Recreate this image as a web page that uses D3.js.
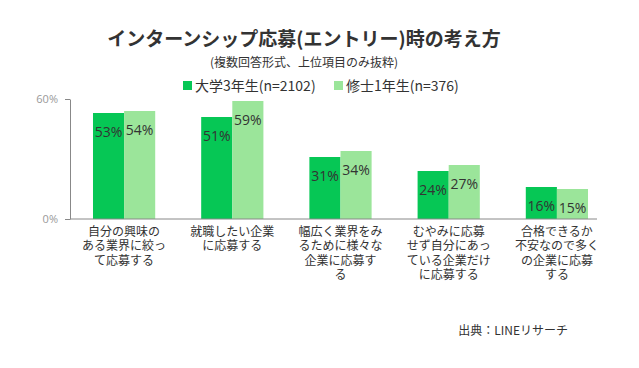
<!DOCTYPE html>
<html><head><meta charset="utf-8">
<script src="https://cdn.jsdelivr.net/npm/d3@7"></script>
<style>
html,body{margin:0;padding:0;background:#fff;}
svg{display:block;font-family:"Noto Sans CJK JP","Noto Sans",sans-serif;}
</style></head>
<body><svg id="c" width="639" height="368"></svg>
<script>
const categories = [
  ["自分の興味の","ある業界に絞っ","て応募する"],
  ["就職したい企業","に応募する"],
  ["幅広く業界をみ","るために様々な","企業に応募す","る"],
  ["むやみに応募","せず自分にあっ","ている企業だけ","に応募する"],
  ["合格できるか","不安なので多く","の企業に応募","する"]
];
const seriesNames = ["大学3年生(n=2102)","修士1年生(n=376)"];
const undergrad = [53,51,31,24,16];
const master = [54,59,34,27,15];
const yTicks = [0,60];
const colors = ["#06C755","#9BE59A"];

const svg = d3.select("#c");
const x0 = d3.scaleBand().domain(d3.range(categories.length)).range([70,611]).paddingInner(0.425).paddingOuter(0.2125);
const x1 = d3.scaleBand().domain([0,1]).range([0,x0.bandwidth()]);
const y = d3.scaleLinear().domain([0,60]).range([219,99]);

// title
svg.append("text").attr("x",304).attr("y",46).attr("text-anchor","middle")
  .attr("font-size",19).attr("font-weight","bold").attr("fill","#333")
  .text("インターンシップ応募(エントリー)時の考え方");
svg.append("text").attr("x",304).attr("y",67).attr("text-anchor","middle")
  .attr("font-size",12).attr("fill","#333").text("(複数回答形式、上位項目のみ抜粋)");

// legend
const lg = [[183,195],[334,346]];
seriesNames.forEach((n,i)=>{
  svg.append("rect").attr("x",lg[i][0]).attr("y",81).attr("width",9).attr("height",9).attr("fill",colors[i]);
  svg.append("text").attr("x",lg[i][1]).attr("y",90.5).attr("font-size",14).attr("fill","#333").text(n);
});

// axes
const yAxis = d3.axisLeft(y).tickValues(yTicks).tickFormat(d=>d+"%").tickSize(5).tickSizeOuter(0);
const ga = svg.append("g").attr("transform","translate(70,0)").call(yAxis);
ga.select(".domain").attr("stroke","#888");
ga.selectAll(".tick line").attr("stroke","#888");
ga.selectAll(".tick text").attr("fill","#999").attr("font-size",11).attr("x",-12)
  .attr("font-family","'Open Sans','Noto Sans',sans-serif");

// bars
const data = [undergrad, master];
categories.forEach((c,i)=>{
  data.forEach((s,j)=>{
    const bx = x0(i)+x1(j);
    svg.append("rect").attr("x",bx).attr("y",y(s[i])).attr("width",x1.bandwidth()).attr("height",y(0)-y(s[i])).attr("fill",colors[j]);
    svg.append("text").attr("x",bx+x1.bandwidth()/2).attr("y",y(s[i])+24).attr("text-anchor","middle")
      .attr("font-size",14).attr("fill","#333").attr("font-family","'Open Sans','Noto Sans',sans-serif")
      .text(s[i]+"%");
  });
});

svg.append("line").attr("x1",70).attr("x2",597).attr("y1",y(0)).attr("y2",y(0)).attr("stroke","#888");

// category labels
categories.forEach((c,i)=>{
  const t = svg.append("text").attr("text-anchor","middle").attr("font-size",12).attr("fill","#333");
  c.forEach((line,k)=>{
    t.append("tspan").attr("x",x0(i)+x0.bandwidth()/2).attr("y",236+k*14.3).text(line);
  });
});

svg.append("text").attr("x",568).attr("y",335).attr("text-anchor","end").attr("font-size",12).attr("fill","#333").text("出典：LINEリサーチ");
</script></body></html>
